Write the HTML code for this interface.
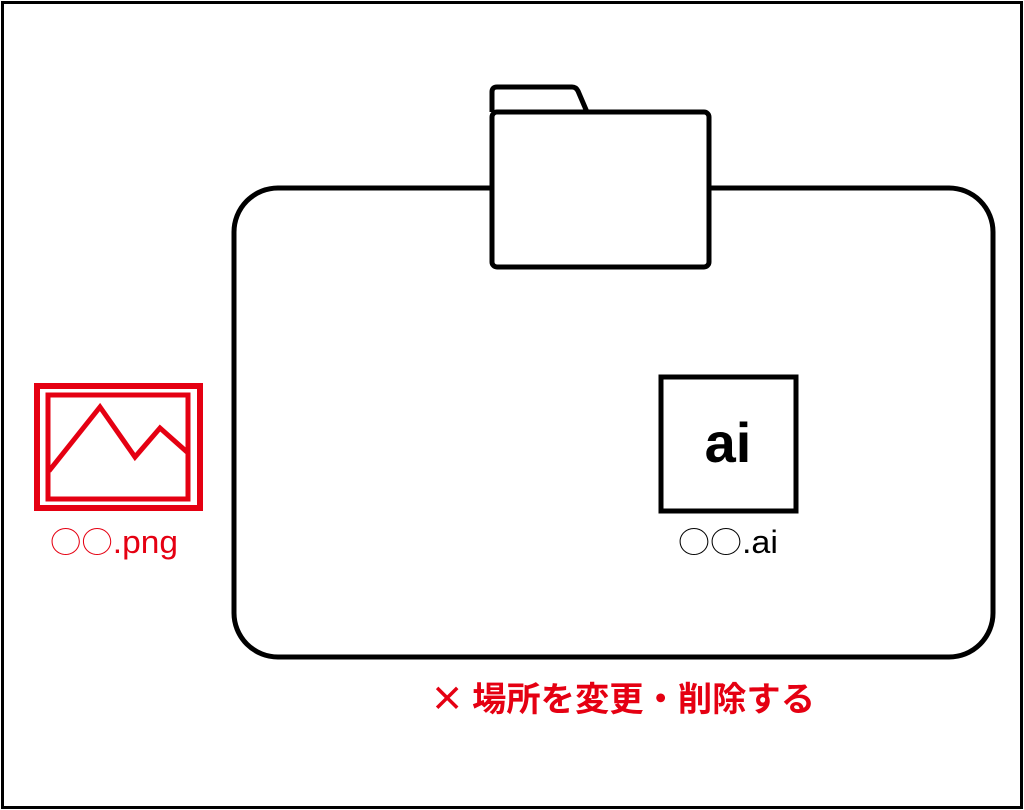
<!DOCTYPE html>
<html><head><meta charset="utf-8"><style>
body{margin:0;background:#fff;}
</style></head><body>
<svg width="1024" height="810" xmlns="http://www.w3.org/2000/svg" style="display:block">
<rect x="0" y="0" width="1024" height="810" fill="#fff"/>
<rect x="2.5" y="2.5" width="1019" height="805" fill="none" stroke="#000" stroke-width="3"/>
<rect x="234" y="188" width="759" height="469" rx="44" fill="none" stroke="#000" stroke-width="5"/>
<path d="M492,112 V92 Q492,87 497,87 H572 Q576,87 578,91 L587,112" fill="#fff" stroke="#000" stroke-width="5" stroke-linejoin="round"/>
<rect x="492" y="112" width="217" height="155" rx="5" fill="#fff" stroke="#000" stroke-width="5"/>
<rect x="37" y="386" width="163" height="122" fill="none" stroke="#e50012" stroke-width="6"/>
<rect x="48" y="395" width="140" height="104" fill="none" stroke="#e50012" stroke-width="5"/>
<polyline points="49,471 100,407 135,457 160,428 187,452" fill="none" stroke="#e50012" stroke-width="5"/>
<text x="50" y="553" textLength="128" lengthAdjust="spacingAndGlyphs" font-family="Liberation Sans, sans-serif" font-size="32" fill="#e50012"><tspan font-family="Noto Sans CJK JP, sans-serif" font-weight="300" font-size="30">○○</tspan>.png</text>
<rect x="661" y="377" width="135" height="134" fill="none" stroke="#000" stroke-width="5"/>
<text x="728" y="462" text-anchor="middle" font-family="Liberation Sans, sans-serif" font-size="56" font-weight="bold" fill="#000">ai</text>
<text x="678" y="553" textLength="100" lengthAdjust="spacingAndGlyphs" font-family="Liberation Sans, sans-serif" font-size="32" fill="#000"><tspan font-family="Noto Sans CJK JP, sans-serif" font-weight="300" font-size="30">○○</tspan>.ai</text>
<text x="430" y="711" textLength="385" lengthAdjust="spacingAndGlyphs" font-family="Noto Sans CJK JP, sans-serif" font-size="34" font-weight="bold" fill="#e50012">× 場所を変更・削除する</text>
</svg>
</body></html>
